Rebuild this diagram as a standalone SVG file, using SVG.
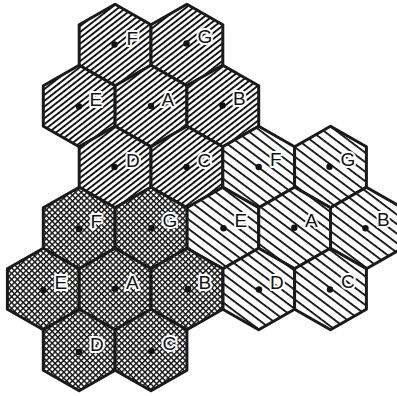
<svg xmlns="http://www.w3.org/2000/svg" width="397" height="396" viewBox="0 0 397 396">
<style>
.hx{stroke:#1a1a1a;stroke-width:3;stroke-linejoin:round}
.t1{fill:url(#h1)}
.t2{fill:url(#h2)}
.t3{fill:url(#h3)}
.dot{fill:#111}
.lb{font-family:"Liberation Sans",Arial,sans-serif;font-size:19px;fill:#111;stroke:#fff;stroke-width:4;paint-order:stroke;stroke-linejoin:round}
</style>
<defs>
<pattern id="h1" patternUnits="userSpaceOnUse" width="20" height="4.6" patternTransform="rotate(-38)"><rect width="20" height="4.6" fill="#fff"/><rect width="20" height="1.9" fill="#111"/></pattern>
<pattern id="h2" patternUnits="userSpaceOnUse" width="20" height="7.6" patternTransform="rotate(37)"><rect width="20" height="7.6" fill="#fff"/><rect width="20" height="1.8" fill="#111"/></pattern>
<pattern id="h3" patternUnits="userSpaceOnUse" width="4.1" height="4.1" patternTransform="rotate(45)"><rect width="4.1" height="4.1" fill="#fff"/><rect width="4.1" height="1.4" fill="#111"/><rect width="1.4" height="4.1" fill="#111"/></pattern>
</defs>
<rect width="397" height="396" fill="#fff"/>
<g id="connectors"/>
<g id="top-cluster">
<g id="top-F"><polygon class="hx t1" points="115.1,4.3 151,24.7 151,65.3 115.1,85.7 79.2,65.3 79.2,24.7"/></g>
<g id="top-G"><polygon class="hx t1" points="186.9,4.3 222.8,24.7 222.8,65.3 186.9,85.7 151,65.3 151,24.7"/></g>
<g id="top-E"><polygon class="hx t1" points="79.2,65.3 115.1,85.7 115.1,126.3 79.2,146.7 43.3,126.3 43.3,85.7"/></g>
<g id="top-A"><polygon class="hx t1" points="151,65.3 186.9,85.7 186.9,126.3 151,146.7 115.1,126.3 115.1,85.7"/></g>
<g id="top-B"><polygon class="hx t1" points="222.8,65.3 258.7,85.7 258.7,126.3 222.8,146.7 186.9,126.3 186.9,85.7"/></g>
<g id="top-D"><polygon class="hx t1" points="115.1,126.3 151,146.7 151,187.3 115.1,207.7 79.2,187.3 79.2,146.7"/></g>
<g id="top-C"><polygon class="hx t1" points="186.9,126.3 222.8,146.7 222.8,187.3 186.9,207.7 151,187.3 151,146.7"/></g>
</g>
<g id="right-cluster">
<g id="right-F"><polygon class="hx t2" points="258.7,126.3 294.6,146.7 294.6,187.3 258.7,207.7 222.8,187.3 222.8,146.7"/></g>
<g id="right-G"><polygon class="hx t2" points="330.5,126.3 366.4,146.7 366.4,187.3 330.5,207.7 294.6,187.3 294.6,146.7"/></g>
<g id="right-E"><polygon class="hx t2" points="222.8,187.3 258.7,207.7 258.7,248.3 222.8,268.7 186.9,248.3 186.9,207.7"/></g>
<g id="right-A"><polygon class="hx t2" points="294.6,187.3 330.5,207.7 330.5,248.3 294.6,268.7 258.7,248.3 258.7,207.7"/></g>
<g id="right-B"><polygon class="hx t2" points="366.4,187.3 402.3,207.7 402.3,248.3 366.4,268.7 330.5,248.3 330.5,207.7"/></g>
<g id="right-D"><polygon class="hx t2" points="258.7,248.3 294.6,268.7 294.6,309.3 258.7,329.7 222.8,309.3 222.8,268.7"/></g>
<g id="right-C"><polygon class="hx t2" points="330.5,248.3 366.4,268.7 366.4,309.3 330.5,329.7 294.6,309.3 294.6,268.7"/></g>
</g>
<g id="bottom-cluster">
<g id="bottom-F"><polygon class="hx t3" points="79.2,187.3 115.1,207.7 115.1,248.3 79.2,268.7 43.3,248.3 43.3,207.7"/></g>
<g id="bottom-G"><polygon class="hx t3" points="151,187.3 186.9,207.7 186.9,248.3 151,268.7 115.1,248.3 115.1,207.7"/></g>
<g id="bottom-E"><polygon class="hx t3" points="43.3,248.3 79.2,268.7 79.2,309.3 43.3,329.7 7.4,309.3 7.4,268.7"/></g>
<g id="bottom-A"><polygon class="hx t3" points="115.1,248.3 151,268.7 151,309.3 115.1,329.7 79.2,309.3 79.2,268.7"/></g>
<g id="bottom-B"><polygon class="hx t3" points="186.9,248.3 222.8,268.7 222.8,309.3 186.9,329.7 151,309.3 151,268.7"/></g>
<g id="bottom-D"><polygon class="hx t3" points="79.2,309.3 115.1,329.7 115.1,370.3 79.2,390.7 43.3,370.3 43.3,329.7"/></g>
<g id="bottom-C"><polygon class="hx t3" points="151,309.3 186.9,329.7 186.9,370.3 151,390.7 115.1,370.3 115.1,329.7"/></g>
</g>
<g id="labels">
<circle class="dot" cx="114.5" cy="44.5" r="3.2"/><text class="lb" x="126.5" y="45">F</text>
<circle class="dot" cx="186.5" cy="43.5" r="3.2"/><text class="lb" x="197.5" y="43">G</text>
<circle class="dot" cx="79" cy="106.5" r="3.2"/><text class="lb" x="89.5" y="106">E</text>
<circle class="dot" cx="151" cy="106" r="3.2"/><text class="lb" x="161.5" y="105.5">A</text>
<circle class="dot" cx="222.5" cy="105.5" r="3.2"/><text class="lb" x="233" y="105">B</text>
<circle class="dot" cx="114.5" cy="167" r="3.2"/><text class="lb" x="126" y="167">D</text>
<circle class="dot" cx="186.5" cy="167" r="3.2"/><text class="lb" x="197.5" y="166.5">C</text>
<circle class="dot" cx="258.7" cy="167" r="3.2"/><text class="lb" x="270" y="166">F</text>
<circle class="dot" cx="329.5" cy="166.7" r="3.2"/><text class="lb" x="340.5" y="165.5">G</text>
<circle class="dot" cx="223.5" cy="228.3" r="3.2"/><text class="lb" x="234.5" y="227">E</text>
<circle class="dot" cx="294.3" cy="227.7" r="3.2"/><text class="lb" x="305" y="227">A</text>
<circle class="dot" cx="365.5" cy="228.3" r="3.2"/><text class="lb" x="377" y="225.5">B</text>
<circle class="dot" cx="259" cy="289.5" r="3.2"/><text class="lb" x="270" y="288.5">D</text>
<circle class="dot" cx="330" cy="289.5" r="3.2"/><text class="lb" x="341" y="288">C</text>
<circle class="dot" cx="79" cy="229" r="3.2"/><text class="lb" x="90.5" y="228">F</text>
<circle class="dot" cx="151.5" cy="228" r="3.2"/><text class="lb" x="162.5" y="227">G</text>
<circle class="dot" cx="43.3" cy="290" r="3.2"/><text class="lb" x="54.5" y="289">E</text>
<circle class="dot" cx="115" cy="289" r="3.2"/><text class="lb" x="126" y="288.5">A</text>
<circle class="dot" cx="188" cy="289" r="3.2"/><text class="lb" x="198.5" y="288.5">B</text>
<circle class="dot" cx="79" cy="352" r="3.2"/><text class="lb" x="90" y="350.5">D</text>
<circle class="dot" cx="151.5" cy="351" r="3.2"/><text class="lb" x="162.5" y="350">C</text>
</g>
</svg>
